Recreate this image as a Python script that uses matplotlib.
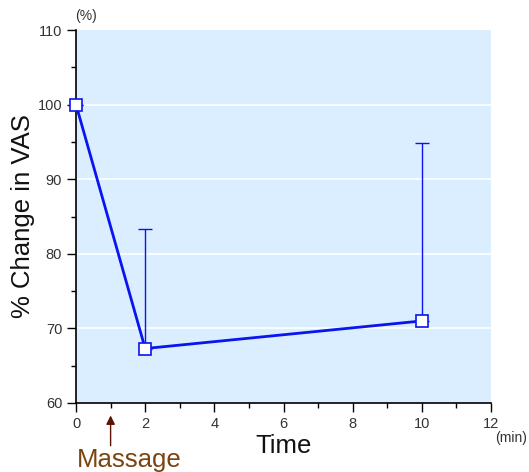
import matplotlib
matplotlib.use("Agg")
import matplotlib.pyplot as plt
from matplotlib.ticker import MultipleLocator

plt.rcParams['font.family'] = ['Liberation Sans', 'DejaVu Sans']

# data
time_min = [0, 2, 10]
vas_pct = [100, 67.3, 71.0]
err_upper = [0, 16.0, 23.9]
massage_at = 1

fig = plt.figure(figsize=(5.29, 4.72), dpi=100)
ax = fig.add_axes([0.1437, 0.1462, 0.7845, 0.7902])
ax.set_facecolor('#dbeeff')

blue = '#0a14f0'
# upper-only error bars
ax.errorbar(time_min, vas_pct, yerr=[[0] * len(err_upper), err_upper],
            fmt='none', ecolor=blue, elinewidth=1.0, capsize=5, capthick=1.0, zorder=2)
ax.plot(time_min, vas_pct, color=blue, lw=2, marker='s', ms=9,
        mfc='white', mec=blue, mew=1.2, zorder=3, clip_on=False)

ax.set_xlim(0, 12)
ax.set_ylim(60, 110)
ax.xaxis.set_major_locator(MultipleLocator(2))
ax.xaxis.set_minor_locator(MultipleLocator(1))
ax.yaxis.set_major_locator(MultipleLocator(10))
ax.yaxis.set_minor_locator(MultipleLocator(5))
for v in [70, 80, 90, 100]:
    ax.axhline(v, color='white', lw=1.2, zorder=1)

for s in ['top', 'right']:
    ax.spines[s].set_visible(False)
ax.spines['left'].set_linewidth(1.2)
ax.spines['bottom'].set_linewidth(1.2)
ax.tick_params(which='major', length=6.5, width=1, labelsize=10.5, color='black', labelcolor='#333333')
ax.tick_params(which='minor', length=3.5, width=1, color='black')

ax.set_xlabel('Time', fontsize=18.5, color='#111111', labelpad=2)
ax.set_ylabel('% Change in VAS', fontsize=18.5, color='#111111', labelpad=2)
ax.text(0.025, 1.02, '(%)', transform=ax.transAxes, fontsize=10, color='#333333', ha='center', va='bottom')
ax.text(1.01, -0.075, '(min)', transform=ax.transAxes, fontsize=10, color='#333333', ha='left', va='top')

ax.annotate('', xy=(massage_at, 58.7), xytext=(massage_at, 53.9),
            arrowprops=dict(arrowstyle='-|>', color='#5a1500', lw=1, mutation_scale=13),
            annotation_clip=False)
ax.text(massage_at + 0.55, 53.9, 'Massage', fontsize=18.5, color='#7a4410', ha='center', va='top')

fig.savefig('out.png', dpi=100)
